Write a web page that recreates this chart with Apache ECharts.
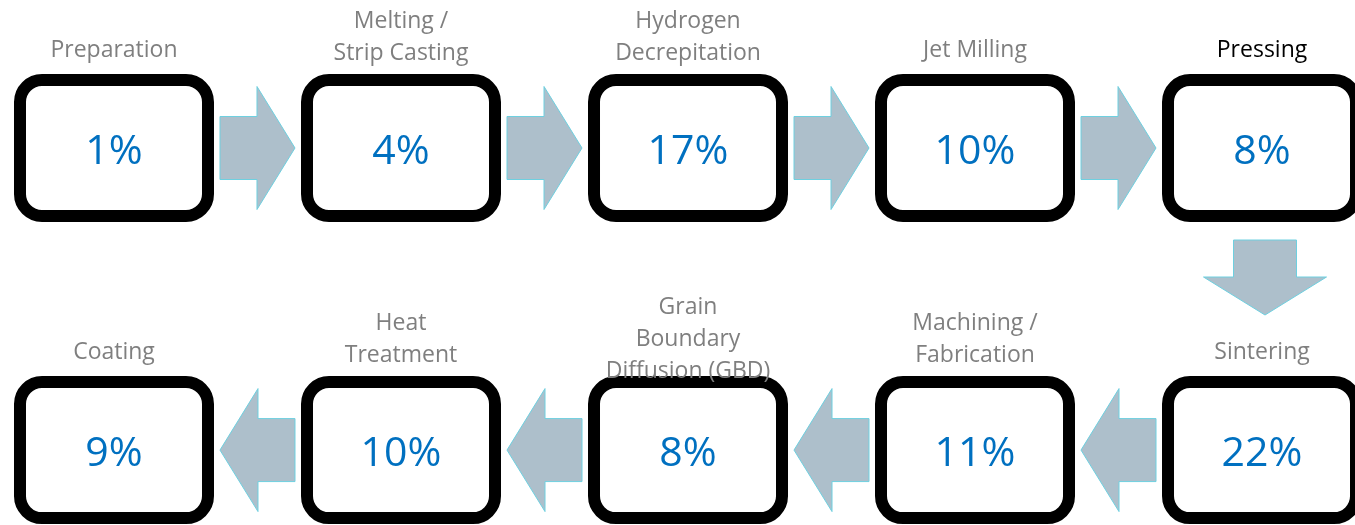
<!DOCTYPE html>
<html>
<head>
<meta charset="utf-8">
<title>Process cost share</title>
<script src="https://cdn.jsdelivr.net/npm/echarts@6/dist/echarts.min.js"></script>
<style>
  html, body { margin: 0; padding: 0; background: #fff; }
  #main { width: 1355px; height: 525px; }
</style>
</head>
<body>
<div id="main"></div>
<script>
// process steps, in flow order (snake: left->right on top, right->left below)
var steps = ['Preparation', 'Melting /\nStrip Casting', 'Hydrogen\nDecrepitation', 'Jet Milling', 'Pressing',
  'Sintering', 'Machining /\nFabrication', 'Grain\nBoundary\nDiffusion (GBD)', 'Heat\nTreatment', 'Coating'];
var shares = [1, 4, 17, 10, 8, 22, 11, 8, 10, 9];
var perRow = 5;

var chartDom = document.getElementById('main');
var myChart = echarts.init(chartDom);

var FONT = '"Open Sans", "Noto Sans", sans-serif';
var BOX_W = 188, BOX_H = 136, BOX_LINE = 12;
var ARROW_LEN = 75, SHAFT_LEN = 37, SHAFT_W = 63, HEAD_W = 123;

function cell(i) {
  var row = Math.floor(i / perRow);
  var col = row % 2 === 0 ? i % perRow : perRow - 1 - (i % perRow);
  return [col, row];
}

var boxData = steps.map(function (s, i) {
  var c = cell(i);
  return [c[0], c[1], shares[i], i];
});
var linkData = [];
for (var i = 0; i < steps.length - 1; i++) {
  var a = cell(i), b = cell(i + 1);
  linkData.push([a[0], a[1], b[0], b[1]]);
}

function renderBox(params, api) {
  var p = api.coord([api.value(0), api.value(1)]);
  var idx = api.value(3);
  var name = steps[idx];
  var lines = name.split('\n').length;
  var outerTop = p[1] - BOX_H / 2 - BOX_LINE / 2;
  return {
    type: 'group',
    children: [{
      type: 'rect',
      shape: { x: p[0] - BOX_W / 2, y: p[1] - BOX_H / 2, width: BOX_W, height: BOX_H, r: 22 },
      style: { fill: '#fff', stroke: '#000', lineWidth: BOX_LINE }
    }, {
      type: 'text',
      style: {
        text: api.value(2) + '%', x: p[0], y: p[1] + 4,
        align: 'center', verticalAlign: 'middle',
        fontFamily: FONT, fontSize: 41, fill: '#0070C0'
      }
    }, {
      type: 'text',
      z2: 10,
      style: {
        text: name, x: p[0], y: outerTop - (lines === 1 ? 24 : 37),
        align: 'center', verticalAlign: 'middle', lineHeight: 32,
        fontFamily: FONT, fontSize: 23,
        fill: name === 'Pressing' ? '#000' : '#7F7F7F'
      }
    }]
  };
}

function renderArrow(params, api) {
  var a = api.coord([api.value(0), api.value(1)]);
  var b = api.coord([api.value(2), api.value(3)]);
  var dx = b[0] - a[0], dy = b[1] - a[1];
  var len = Math.sqrt(dx * dx + dy * dy);
  var ux = dx / len, uy = dy / len;
  var px = -uy, py = ux;
  var cx, cy;
  if (Math.abs(uy) > 0.5) {
    // vertical step between rows: sits just under the upper box
    cx = a[0] + 3;
    cy = a[1] + BOX_H / 2 + BOX_LINE / 2 + 18 + ARROW_LEN / 2;
  } else {
    cx = (a[0] + b[0]) / 2;
    cy = (a[1] + b[1]) / 2;
  }
  var h = ARROW_LEN / 2;
  var rel = [
    [-h, -SHAFT_W / 2], [-h + SHAFT_LEN, -SHAFT_W / 2], [-h + SHAFT_LEN, -HEAD_W / 2],
    [h, 0],
    [-h + SHAFT_LEN, HEAD_W / 2], [-h + SHAFT_LEN, SHAFT_W / 2], [-h, SHAFT_W / 2]
  ];
  var pts = rel.map(function (q) {
    return [cx + q[0] * ux + q[1] * px, cy + q[0] * uy + q[1] * py];
  });
  return {
    type: 'polygon',
    shape: { points: pts },
    style: { fill: '#ADBFCB', stroke: '#6ED0E0', lineWidth: 1 }
  };
}

var option = {
  animation: false,
  backgroundColor: '#fff',
  grid: { left: 0, right: 0, top: 0, bottom: 0 },
  xAxis: { type: 'value', min: -0.3972, max: 4.324, show: false },
  yAxis: { type: 'value', min: -0.49, max: 1.248, inverse: true, show: false },
  series: [{
    type: 'custom',
    renderItem: renderArrow,
    data: linkData,
    silent: true
  }, {
    type: 'custom',
    renderItem: renderBox,
    data: boxData,
    silent: true
  }]
};

option && myChart.setOption(option);
</script>
</body>
</html>
